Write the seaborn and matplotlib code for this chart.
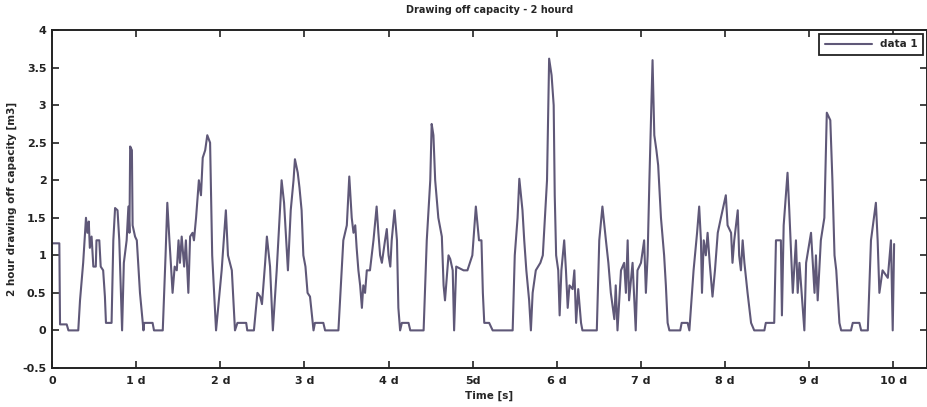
import numpy as np
import pandas as pd
import matplotlib
matplotlib.use("Agg")
import matplotlib.pyplot as plt
import seaborn as sns

# Time stamps [h] and 2-hour drawing-off capacity [m3]
hours = [
    0.0, 2.1, 2.3, 4.2, 4.7, 7.5, 8.0, 8.9, 9.7, 10.1, 10.5, 10.8, 11.3, 11.8, 12.5, 12.7,
    13.5, 13.9, 14.6, 15.1, 15.4, 17.0, 17.5, 18.0, 18.7, 19.2, 20.0, 20.5, 21.3, 21.8,
    22.1, 22.3, 22.8, 23.0, 23.7, 24.2, 25.1, 26.1, 26.3, 28.7, 29.1, 31.6, 32.4, 32.9,
    33.5, 33.9, 34.4, 35.0, 35.6, 36.1, 36.5, 37.0, 37.7, 38.2, 38.9, 39.4, 40.1, 40.5,
    41.1, 41.9, 42.5, 43.0, 43.7, 44.3, 45.1, 45.7, 46.8, 48.4, 49.6, 50.2, 51.3, 52.2,
    52.9, 55.4, 55.7, 57.6, 58.6, 59.4, 59.9, 60.8, 61.3, 62.2, 63.0, 64.1, 64.9, 65.5,
    66.2, 66.8, 67.3, 68.1, 68.9, 69.3, 70.1, 70.6, 71.2, 71.7, 72.3, 72.9, 73.6, 74.6,
    75.0, 77.4, 77.9, 81.7, 83.1, 84.1, 84.8, 85.5, 86.0, 86.5, 86.9, 87.4, 87.9, 88.4,
    88.8, 89.3, 89.8, 90.7, 91.7, 92.6, 93.1, 93.6, 94.1, 95.0, 95.5, 96.0, 96.5, 96.9,
    97.7, 98.4, 98.8, 99.3, 99.8, 101.7, 102.2, 106.0, 106.9, 107.9, 108.3, 108.8, 109.3,
    110.2, 111.2, 111.7, 112.1, 113.1, 113.6, 114.3, 114.7, 115.3, 117.4,
    118.5, 119.9, 120.9, 121.8, 122.5, 122.9, 123.3, 124.7, 125.7, 131.4, 132.0, 132.8,
    133.3, 134.2, 134.7, 135.3, 136.1, 136.6, 137.1, 138.0, 139.3, 140.0, 140.6, 141.2,
    141.8, 142.5, 143.1, 143.4, 143.8, 144.4, 144.8, 145.3, 146.1, 146.6, 147.1, 147.6,
    148.5, 149.0, 149.5, 150.1, 150.9, 151.3, 155.4, 156.1, 157.0, 158.0, 158.7, 159.4,
    160.4, 160.8, 161.3, 162.3, 163.2, 163.7, 164.2, 164.6, 165.6, 166.5, 167.0, 168.0,
    168.9, 169.4, 169.9, 170.4, 171.3, 171.8, 172.4, 172.9, 173.7, 174.6, 175.1, 175.6,
    176.1, 179.2, 179.6, 181.3, 181.8, 183.0, 184.0, 184.6, 185.1, 185.4, 185.9, 186.5,
    187.0, 187.6, 188.4, 189.1, 189.9, 190.8, 192.2, 192.7, 193.7, 194.1, 194.6, 195.6,
    196.0, 196.5, 197.0, 197.5, 198.4, 199.4, 200.3, 203.2, 203.6, 206.0, 206.5, 207.9,
    208.2, 208.7, 209.8, 210.3, 211.3, 212.2, 212.7, 213.2, 214.6, 215.1, 216.5, 217.5,
    217.9, 218.4, 219.3, 220.3, 221.0, 222.0, 222.6, 223.2, 223.7, 224.6, 225.1, 227.9,
    228.4, 230.3, 230.8, 232.7, 233.6, 235.0, 235.5, 236.0, 236.9, 238.4, 239.3, 239.8,
    240.2,
]
capacity = [
    1.16, 1.16, 0.08, 0.08, 0.0, 0.0, 0.4, 0.9, 1.5, 1.3, 1.45, 1.1, 1.25, 0.85, 0.85, 1.2,
    1.2, 0.85, 0.8, 0.45, 0.1, 0.1, 1.2, 1.63, 1.6, 1.2, 0.0, 0.9, 1.2, 1.65,
    1.3, 2.45, 2.4, 1.4, 1.25, 1.2, 0.5, 0.0, 0.1, 0.1, 0.0, 0.0, 1.0, 1.7,
    1.2, 0.9, 0.5, 0.85, 0.8, 1.2, 0.9, 1.25, 0.85, 1.2, 0.5, 1.25, 1.3, 1.2,
    1.5, 2.0, 1.8, 2.3, 2.4, 2.6, 2.5, 1.0, 0.0, 0.8, 1.6, 1.0, 0.8, 0.0,
    0.1, 0.1, 0.0, 0.0, 0.5, 0.45, 0.35, 0.9, 1.25, 0.85, 0.0, 0.8, 1.5, 2.0,
    1.7, 1.2, 0.8, 1.6, 2.0, 2.28, 2.1, 1.9, 1.6, 1.0, 0.85, 0.5, 0.45, 0.0,
    0.1, 0.1, 0.0, 0.0, 1.2, 1.4, 2.05, 1.5, 1.3, 1.4, 1.1, 0.8, 0.6, 0.3,
    0.6, 0.5, 0.8, 0.8, 1.2, 1.65, 1.3, 1.0, 0.9, 1.2, 1.35, 1.0, 0.85, 1.2,
    1.6, 1.2, 0.3, 0.0, 0.1, 0.1, 0.0, 0.0, 1.2, 2.0, 2.75, 2.6, 2.0,
    1.5, 1.25, 0.6, 0.4, 1.0, 0.95, 0.8, 0.0, 0.85, 0.8,
    0.8, 1.0, 1.65, 1.2, 1.2, 0.5, 0.1, 0.1, 0.0, 0.0, 1.0, 1.5,
    2.02, 1.6, 1.2, 0.8, 0.4, 0.0, 0.5, 0.8, 0.9, 1.0, 1.5, 2.0,
    3.62, 3.4, 3.0, 1.8, 1.0, 0.8, 0.2, 0.8, 1.2, 0.8, 0.3, 0.6,
    0.55, 0.8, 0.1, 0.55, 0.1, 0.0, 0.0, 1.2, 1.65, 1.2, 0.9, 0.5,
    0.15, 0.6, 0.0, 0.8, 0.9, 0.5, 1.2, 0.4, 0.9, 0.0, 0.8, 0.9,
    1.2, 0.5, 1.0, 2.0, 3.6, 2.6, 2.4, 2.2, 1.5, 1.0, 0.6, 0.1,
    0.0, 0.0, 0.1, 0.1, 0.0, 0.8, 1.3, 1.65, 1.2, 0.5, 1.2, 1.0,
    1.3, 0.9, 0.45, 0.8, 1.3, 1.5, 1.8, 1.4, 1.3, 0.9, 1.2, 1.6,
    1.0, 0.8, 1.2, 0.9, 0.5, 0.1, 0.0, 0.0, 0.1, 0.1, 1.2, 1.2,
    0.2, 1.4, 2.1, 1.6, 0.5, 1.2, 0.5, 0.9, 0.0, 0.9, 1.3, 0.5,
    1.0, 0.4, 1.2, 1.5, 2.9, 2.8, 2.0, 1.0, 0.8, 0.1, 0.0, 0.0,
    0.1, 0.1, 0.0, 0.0, 1.2, 1.7, 1.2, 0.5, 0.8, 0.7, 1.2, 0.0,
    1.15,
]

day_ticks = list(range(11))
day_labels = ["0", "1 d", "2 d", "3 d", "4 d", "5d", "6 d", "7 d", "8 d", "9 d", "10 d"]
y_ticks = [-0.5, 0, 0.5, 1, 1.5, 2, 2.5, 3, 3.5, 4]
y_labels = ["-0.5", "0", "0.5", "1", "1.5", "2", "2.5", "3", "3.5", "4"]

df = pd.DataFrame({"day": np.array(hours) / 24.0, "capacity": capacity})

sns.set_style("ticks")
plt.rcParams["font.family"] = ["DejaVu Sans"]

fig = plt.figure(figsize=(9.28, 4.07), dpi=100)
ax = fig.add_axes([0.056, 0.096, 0.943, 0.830])

line_color = "#5f5878"
sns.lineplot(data=df, x="day", y="capacity", ax=ax, estimator=None, sort=False,
             color=line_color, linewidth=1.5, label="data 1")

ax.set_xlim(0, 10.4)
ax.set_ylim(-0.5, 4)
ax.set_xticks(day_ticks)
ax.set_xticklabels(day_labels)
ax.set_yticks(y_ticks)
ax.set_yticklabels(y_labels)

for s in ax.spines.values():
    s.set_visible(True)
    s.set_linewidth(1.4)
    s.set_color("#222222")

ax.tick_params(direction="in", length=5, width=1.2, top=True, right=True,
               labelsize=8, colors="#222222")
ax.tick_params(axis="x", pad=6)
ax.tick_params(axis="y", pad=4)
for lab in ax.get_xticklabels() + ax.get_yticklabels():
    lab.set_fontweight("bold")

ax.set_title("Drawing off capacity - 2 hourd", fontsize=7, fontweight="bold", pad=12)
ax.set_xlabel("Time [s]", fontsize=7.5, fontweight="bold", labelpad=3)
ax.set_ylabel("2 hour drawing off capacity [m3]", fontsize=7.5, fontweight="bold", labelpad=4)

leg = ax.legend(loc="upper right", fontsize=7.5, frameon=True, fancybox=False,
                handlelength=4.5, borderaxespad=0.35, borderpad=0.55)
leg.get_frame().set_edgecolor("#222222")
leg.get_frame().set_linewidth(1.3)
leg.get_frame().set_alpha(1)
for t in leg.get_texts():
    t.set_fontweight("bold")

fig.savefig("out.png", dpi=100, facecolor="white")
